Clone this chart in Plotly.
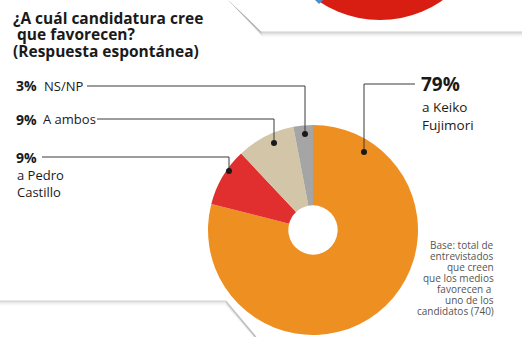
import plotly.graph_objects as go

# Survey answers: which candidacy the media favour
labels = ["a Keiko Fujimori", "a Pedro Castillo", "A ambos", "NS/NP"]
values = [79, 9, 9, 3]
colors = ["#EE8F22", "#E12F2F", "#D3C6A8", "#A5A5A5"]

W, H = 522, 337
FONT = "Open Sans"


def px(x):
    return x / W


def py(y):
    return 1 - y / H


def text(t, x, y, size, color="#1a1a1a", anchor="left", bold=False):
    return dict(text=f"<b>{t}</b>" if bold else t, x=px(x), y=py(y),
                xref="paper", yref="paper", xanchor=anchor, yanchor="middle",
                showarrow=False, font=dict(family=FONT, size=size, color=color))


# pie geometry (pixels)
CX, CY, R = 313, 230, 105

fig = go.Figure()
fig.add_trace(go.Pie(
    labels=labels,
    values=values,
    marker=dict(colors=colors, line=dict(width=0)),
    sort=False,
    direction="clockwise",
    rotation=0,
    hole=0.235,
    textinfo="none",
    hoverinfo="label+percent",
    showlegend=False,
    domain=dict(x=[px(CX - R), px(CX + R)], y=[py(CY + R), py(CY - R)]),
))

shapes = []
annotations = []

# ---- decorative panels with soft shadows ----
# top panel (previous chart) edge
for i, a in enumerate([0.30, 0.22, 0.15, 0.09, 0.05, 0.02]):
    shapes.append(dict(type="path", xref="paper", yref="paper", layer="below",
                       path=f"M {px(229)},{py(0)} L {px(261+i*0.3)},{py(32+i)} L {px(522)},{py(32+i)}",
                       line=dict(color=f"rgba(90,90,90,{a})", width=1.2)))
shapes.append(dict(type="path", xref="paper", yref="paper", layer="below",
                   path=f"M {px(228)},{py(0)} L {px(261)},{py(31)} L {px(522)},{py(31)} L {px(522)},{py(0)} Z",
                   fillcolor="white", line=dict(width=0)))
# red disc peeking from the top panel
shapes.append(dict(type="circle", xref="paper", yref="paper", layer="below",
                   x0=px(380 - 109), x1=px(380 + 109), y0=py(-89 + 109), y1=py(-89 - 109),
                   fillcolor="#D81E12", line=dict(width=0)))
shapes.append(dict(type="path", xref="paper", yref="paper", layer="below",
                   path=f"M {px(315)},{py(0)} L {px(323)},{py(0)} L {px(319)},{py(4)} Z",
                   fillcolor="#4A90C8", line=dict(width=0)))

# bottom-left panel edge
for i, a in enumerate([0.28, 0.18, 0.11, 0.06, 0.03]):
    shapes.append(dict(type="path", xref="paper", yref="paper", layer="below",
                       path=f"M {px(0)},{py(301+i)} L {px(226)},{py(301+i)} L {px(256-i*0.5)},{py(337)}",
                       line=dict(color=f"rgba(90,90,90,{a})", width=1.2)))

# ---- title ----
title_lines = ["¿A cuál candidatura cree", " que favorecen?", "(Respuesta espontánea)"]
title_y = [18, 34, 51]
for t, y in zip(title_lines, title_y):
    annotations.append(text(t, 11, y, 15.5, bold=True))

# ---- slice labels with leader lines ----
LINE = "#3a3a3a"
DOT = "#1a1a1a"


def leader(points, dot):
    path = "M " + " L ".join(f"{px(x)},{py(y)}" for x, y in points)
    shapes.append(dict(type="path", xref="paper", yref="paper", path=path,
                       line=dict(color=LINE, width=1)))
    dx, dy = dot
    shapes.append(dict(type="circle", xref="paper", yref="paper",
                       x0=px(dx - 3), x1=px(dx + 3), y0=py(dy - 3), y1=py(dy + 3),
                       fillcolor=DOT, line=dict(width=0)))


# NS/NP
annotations.append(text(f"{values[3]}%", 14, 86, 14, bold=True))
annotations.append(text(labels[3], 42, 86, 13))
leader([(87, 86), (305, 86), (305, 134)], (305, 134))

# A ambos
annotations.append(text(f"{values[2]}%", 14, 119, 14, bold=True))
annotations.append(text(labels[2], 41, 119, 13))
leader([(97, 119), (274, 119), (274, 143)], (274, 143))

# Pedro Castillo
annotations.append(text(f"{values[1]}%", 14, 157, 14, bold=True))
for t, y in zip(["a Pedro", "Castillo"], [175, 192]):
    annotations.append(text(t, 15, y, 13))
leader([(42, 157), (229, 157), (229, 171)], (229, 171))

# Keiko Fujimori
annotations.append(text(f"{values[0]}%", 419, 84, 19, bold=True))
for t, y in zip(["a Keiko", "Fujimori"], [107, 125]):
    annotations.append(text(t, 420, y, 13.5))
leader([(415, 84), (364, 84), (364, 152)], (364, 152))

# ---- base note ----
base_lines = ["Base: total de", "entrevistados", "que creen", "que los medios",
              "favorecen a ", "uno de los", "candidatos (740)"]
for i, t in enumerate(base_lines):
    annotations.append(text(t, 496, 245 + i * 11, 10, color="#555555", anchor="right"))

fig.update_layout(
    width=W, height=H,
    margin=dict(l=0, r=0, t=0, b=0),
    paper_bgcolor="white",
    plot_bgcolor="white",
    shapes=shapes,
    annotations=annotations,
)

fig.write_html("out.html")
